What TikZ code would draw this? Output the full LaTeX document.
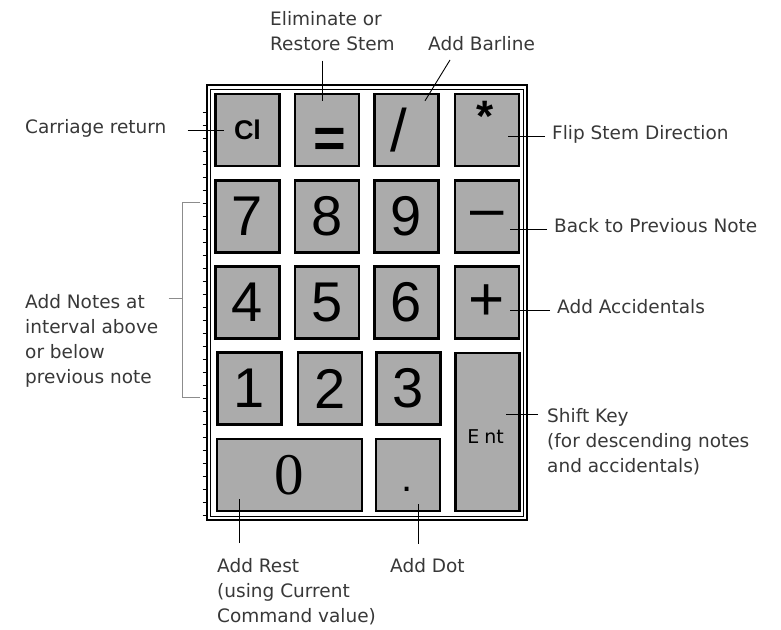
\documentclass[tikz,border=0pt]{standalone}
\usepackage{fontspec}
\setmainfont{DejaVu Sans}
\newfontfamily\keyfont{Liberation Sans}
\newfontfamily\zerofont{Liberation Serif}
\definecolor{KeyGray}{gray}{0.67}
\definecolor{Ink}{gray}{0.22}
\definecolor{Bracket}{gray}{0.55}
\newcommand\keyface[3]{\makebox[0pt][l]{\kern#1\raisebox{#2}[0pt][0pt]{\makebox[0pt]{#3}}}}

\begin{document}
\begin{tikzpicture}[x=1pt,y=-1pt,
    key/.style={draw,line width=2.4pt,fill=KeyGray,inner sep=0pt,minimum width=64pt,minimum height=72pt,
      font=\keyfont\fontsize{56}{60}\selectfont},
    note/.style={anchor=base west,inner sep=0pt,text=Ink,font=\fontsize{18.5}{25}\selectfont},
    notes/.style={note,anchor=north west,align=left},
    lead/.style={line width=0.9pt},
    brace/.style={line width=0.9pt,draw=Bracket}]
  \useasboundingbox (0,0) rectangle (781,629);
  \draw[line width=2.2pt] (207,85) rectangle (527,520);
  \draw[line width=0.8pt] (210,89) rectangle (523,516);
  \foreach \y in {112,125,...,515}
    \draw[line width=0.8pt] (202.5,\y) -- (205.5,\y);
  \node[key] (cl) at (247.5,130) {\fontsize{27}{27}\selectfont\bfseries Cl};
  \node[key] (eq) at (327,130) {\bfseries\keyface{3pt}{-27pt}{=}};
  \node[key] (sl) at (406.5,130) {\fontsize{60}{60}\selectfont\keyface{-8pt}{-21.5pt}{/}};
  \node[key] (st) at (487,130) {\fontsize{44}{44}\selectfont\bfseries\keyface{-2pt}{-1pt}{*}};
  \node[key] (k7) at (247.5,216.5) {7};
  \node[key] (k8) at (327,216.5) {8};
  \node[key] (k9) at (406.5,216.5) {9};
  \node[key] (mn) at (487,216.5) {\fontsize{60}{60}\selectfont\keyface{0pt}{-11.5pt}{–}};
  \node[key] (k4) at (247.5,302.5) {4};
  \node[key] (k5) at (327,302.5) {5};
  \node[key] (k6) at (406.5,302.5) {6};
  \node[key] (pl) at (487,302.5) {\fontsize{62}{62}\selectfont +};
  \node[key] (k1) at (249.5,388.5) {1};
  \node[key] (k2) at (330,388.5) {2};
  \node[key] (k3) at (408.5,388.5) {3};
  \node[key,minimum height=158pt] (ent) at (487.5,432)
    {\normalfont\fontsize{19}{19}\selectfont\keyface{-2pt}{-11.5pt}{E\hspace{5pt}nt}};
  \node[key,minimum width=145pt] (zero) at (289.5,475) {\zerofont\fontsize{59}{59}\selectfont 0};
  \node[key] (pt) at (408,475) {\fontsize{40}{40}\selectfont\keyface{-1pt}{-16pt}{.}};

  \node[notes] (elim) at (270,11) {Eliminate or\\Restore Stem};
  \node[note] (bar) at (428,50) {Add Barline};
  \node[note] (cr) at (25,133) {Carriage return};
  \node[note] (flip) at (552,139) {Flip Stem Direction};
  \node[note] (back) at (554,232) {Back to Previous Note};
  \node[note] (acc) at (557,313) {Add Accidentals};
  \node[notes] (shift) at (547,408) {Shift Key\\(for descending notes\\and accidentals)};
  \node[notes] (addn) at (25,294) {Add Notes at\\interval above\\or below\\previous note};
  \node[notes] (rest) at (217,558) {Add Rest\\(using Current\\Command value)};
  \node[note] (dot) at (390,572) {Add Dot};

  \draw[lead] ([xshift=-5pt,yshift=-10pt]eq.north |- elim.south) -- ([xshift=-5pt,yshift=-8pt]eq.north);
  \draw[lead] ([xshift=22pt,yshift=-10pt]bar.base west) -- ([xshift=18.5pt,yshift=-8pt]sl.north);
  \draw[lead] ([xshift=21pt]cr.mid east) -- ([xshift=10pt]cl.west |- cr.mid east);
  \draw[lead] ([xshift=-7pt]flip.mid west) -- ([xshift=-12pt]st.east |- flip.mid west);
  \draw[lead] ([xshift=-7pt]back.mid west) -- ([xshift=-10pt]mn.east |- back.mid west);
  \draw[lead] ([xshift=-7pt]acc.mid west) -- ([xshift=-10pt]pl.east |- acc.mid west);
  \draw[lead] ([xshift=-9pt,yshift=-6pt]shift.north west) -- ([xshift=-15pt,yshift=-6pt]ent.east |- shift.north west);
  \draw[lead] ([xshift=22pt,yshift=15pt]rest.north west) -- ([xshift=22pt,yshift=13pt]rest.north west |- zero.south);
  \draw[lead] ([xshift=28pt,yshift=14pt]dot.north west) -- ([xshift=28pt,yshift=8pt]dot.north west |- pt.south);

  \coordinate (btop) at (200,202);
  \coordinate (bbot) at (200,397);
  \draw[brace] (btop) -- ++(-18,0) |- (bbot);
  \draw[brace] ([xshift=10pt,yshift=-4pt]addn.north east) -- ([xshift=-18pt,yshift=-4pt]btop |- addn.north east);
\end{tikzpicture}
\end{document}
